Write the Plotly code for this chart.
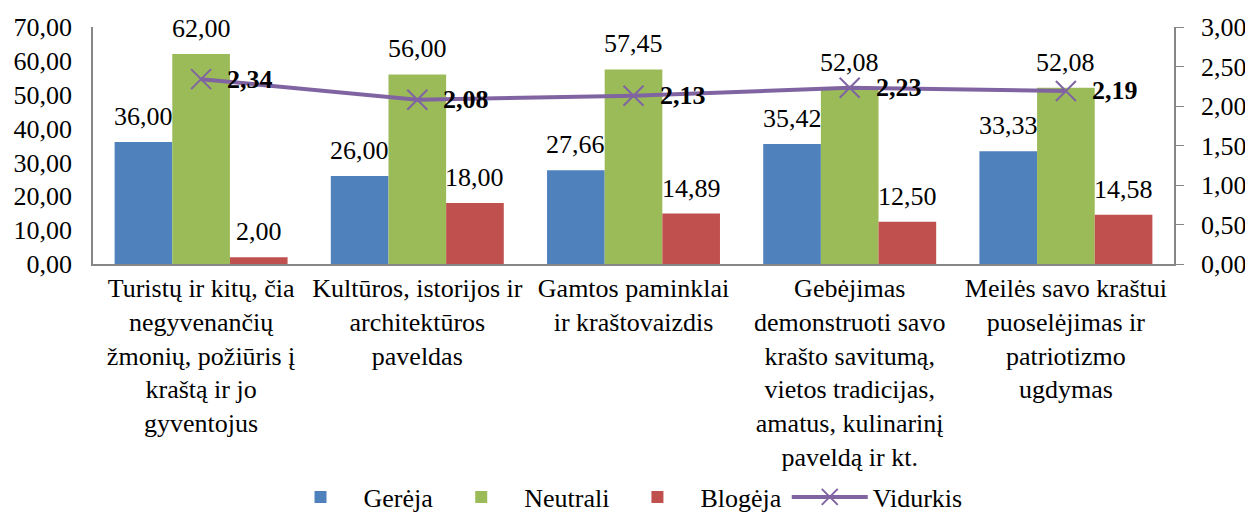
import plotly.graph_objects as go

categories = [
    "Turistų ir kitų, čia<br>negyvenančių<br>žmonių, požiūris į<br>kraštą ir jo<br>gyventojus",
    "Kultūros, istorijos ir<br>architektūros<br>paveldas",
    "Gamtos paminklai<br>ir kraštovaizdis",
    "Gebėjimas<br>demonstruoti savo<br>krašto savitumą,<br>vietos tradicijas,<br>amatus, kulinarinį<br>paveldą ir kt.",
    "Meilės savo kraštui<br>puoselėjimas ir<br>patriotizmo<br>ugdymas",
]
gereja = [36.00, 26.00, 27.66, 35.42, 33.33]
neutrali = [62.00, 56.00, 57.45, 52.08, 52.08]
blogeja = [2.00, 18.00, 14.89, 12.50, 14.58]
vidurkis = [2.34, 2.08, 2.13, 2.23, 2.19]

FONT = "Liberation Serif, Times New Roman, serif"
FS = 26
W, H = 1245, 516
ML, MR, MT, MB = 93, 71, 27, 252
plot_w = W - ML - MR
plot_h = H - MT - MB
cat_w = plot_w / len(categories)
bargap = 0.2
bar_w = cat_w * (1 - bargap) / 3

def fmt(v):
    return f"{v:.2f}".replace(".", ",")

fig = go.Figure()
annotations = []
series = [("Gerėja", gereja, "#4F81BD"),
          ("Neutrali", neutrali, "#9BBB59"),
          ("Blogėja", blogeja, "#C0504D")]
for i, (name, vals, color) in enumerate(series):
    fig.add_trace(go.Bar(
        x=categories, y=vals, name=name, marker=dict(color=color, line=dict(width=0)),
        hoverinfo="x+y+name",
    ))
    for c, v in zip(categories, vals):
        annotations.append(dict(
            x=c, y=v, xref="x", yref="y", text=fmt(v), showarrow=False,
            xshift=(i - 1) * bar_w, yanchor="bottom", yshift=9,
            font=dict(family=FONT, size=FS, color="#000000"),
        ))

fig.add_trace(go.Scatter(
    x=categories, y=vidurkis, name="Vidurkis", yaxis="y2",
    mode="lines+markers",
    line=dict(color="#8064A2", width=4),
    marker=dict(symbol="x-thin", size=20, line=dict(color="#8064A2", width=2), color="#8064A2"),
    cliponaxis=False,
))
for c, v in zip(categories, vidurkis):
    annotations.append(dict(
        x=c, y=v, xref="x", yref="y2", text="<b>" + fmt(v) + "</b>", showarrow=False,
        xanchor="left", xshift=24, yanchor="middle",
        font=dict(family=FONT, size=FS, color="#000000"),
    ))

fig.update_layout(
    width=W, height=H,
    margin=dict(l=ML, r=MR, t=MT, b=MB, autoexpand=False),
    paper_bgcolor="white", plot_bgcolor="white",
    font=dict(family=FONT, size=FS, color="#000000"),
    separators=",.",
    barmode="group", bargap=bargap, bargroupgap=0,
    xaxis=dict(showline=True, linecolor="#868686", linewidth=1.5, ticks="",
               tickfont=dict(family=FONT, size=FS, color="#000000"),
               showgrid=False, tickangle=0, automargin=False),
    yaxis=dict(range=[0, 70], dtick=10, tickformat=".2f", showline=True,
               linecolor="#868686", linewidth=1.5, showgrid=False, ticks="",
               zeroline=False, automargin=False, ticklabelstandoff=14,
               tickfont=dict(family=FONT, size=FS, color="#000000")),
    yaxis2=dict(range=[0, 3], dtick=0.5, tickformat=".2f", overlaying="y", side="right",
                showline=True, linecolor="#868686", linewidth=1.5, showgrid=False,
                ticks="outside", ticklen=8, tickcolor="#868686", zeroline=False,
                automargin=False, ticklabelstandoff=12,
                tickfont=dict(family=FONT, size=FS, color="#000000")),
    legend=dict(orientation="h", x=0.5, xanchor="center",
                y=-(497 - (MT + plot_h)) / plot_h, yanchor="middle",
                yref="paper", xref="container",
                font=dict(family=FONT, size=FS, color="#000000"),
                traceorder="normal", itemwidth=76),
    showlegend=True,
    annotations=annotations,
)

fig.write_html(
    "out.html",
    config={"displayModeBar": False},
    post_script="document.body.style.margin='0';document.body.style.overflow='hidden';",
)
